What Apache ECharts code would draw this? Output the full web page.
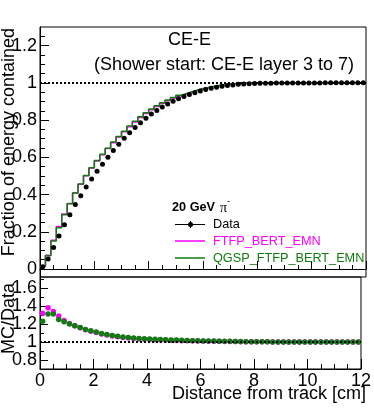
<!DOCTYPE html>
<html>
<head>
<meta charset="utf-8">
<script src="https://cdn.jsdelivr.net/npm/echarts@6/dist/echarts.min.js"></script>
<style>
  html, body { margin: 0; padding: 0; background: #fff; }
  #chart { width: 374px; height: 409px; }
</style>
</head>
<body>
<div id="chart"></div>
<script>
// bin centres [cm], bin width 0.2 cm
const binWidth = 0.2;
const binCenters = [0.1,0.3,0.5,0.7,0.9,1.1,1.3,1.5,1.7,1.9,
  2.1,2.3,2.5,2.7,2.9,3.1,3.3,3.5,3.7,3.9,
  4.1,4.3,4.5,4.7,4.9,5.1,5.3,5.5,5.7,5.9,
  6.1,6.3,6.5,6.7,6.9,7.1,7.3,7.5,7.7,7.9,
  8.1,8.3,8.5,8.7,8.9,9.1,9.3,9.5,9.7,9.9,
  10.1,10.3,10.5,10.7,10.9,11.1,11.3,11.5,11.7,11.9];

// fraction of energy contained
const dataFrac = [0.012,0.054,0.115,0.177,0.238,0.292,0.346,0.394,0.441,0.484,
  0.525,0.563,0.600,0.636,0.670,0.702,0.732,0.760,0.786,0.810,
  0.832,0.852,0.870,0.886,0.901,0.914,0.926,0.937,0.947,0.956,
  0.964,0.971,0.977,0.982,0.986,0.989,0.992,0.994,0.9955,0.9965,
  0.9972,0.9978,0.9983,0.9987,0.999,0.9992,0.9994,0.9995,0.9996,0.9997,
  0.9998,0.9998,0.9999,0.9999,0.9999,0.9999,1.0,1.0,1.0,1.0];
const ftfpFrac = [0.0158,0.0745,0.1541,0.2283,0.2951,0.3519,0.4083,0.4559,0.5014,0.5421,
  0.5801,0.6137,0.6468,0.6786,0.7089,0.7371,0.7642,0.7896,0.8135,0.8351,
  0.8553,0.8733,0.8900,0.9046,0.9181,0.9295,0.9399,0.9501,0.9593,0.9665,
  0.9736,0.9797,0.9848,0.9889,0.9919,0.9949,0.9970,0.9980,0.9990,0.9995,
  0.9997,0.9998,0.9998,0.9998,0.9999,0.9999,0.9999,0.9999,0.9999,0.9999,
  1.0,1.0,1.0,1.0,1.0,1.0,1.0,1.0,1.0,1.0];
const qgspFrac = [0.0148,0.0707,0.1507,0.2213,0.2916,0.3504,0.4083,0.4570,0.5027,0.5445,
  0.5828,0.6165,0.6492,0.6818,0.7122,0.7406,0.7679,0.7934,0.8174,0.8392,
  0.8595,0.8776,0.8935,0.9082,0.9217,0.9332,0.9436,0.9529,0.9612,0.9694,
  0.9756,0.9817,0.9868,0.9908,0.9939,0.9959,0.9980,0.9990,0.9995,0.9998,
  0.9998,0.9998,0.9999,0.9999,1.0,1.0,1.0,1.0,1.0,1.0,
  1.0,1.0,1.0,1.0,1.0,1.0,1.0,1.0,1.0,1.0];

// MC/Data
const ftfpRatio = [1.32,1.38,1.34,1.29,1.24,1.205,1.18,1.157,1.137,1.12,
  1.105,1.09,1.078,1.067,1.058,1.050,1.044,1.039,1.035,1.031,
  1.028,1.025,1.023,1.021,1.019,1.017,1.015,1.014,1.013,1.011,
  1.010,1.009,1.008,1.007,1.006,1.006,1.005,1.004,1.0035,1.003,
  1.0025,1.002,1.0015,1.0011,1.0009,1.0007,1.0005,1.0004,1.0003,1.0002,
  1.0002,1.0001,1.0001,1.0,1.0,1.0,1.0,1.0,1.0,1.0];
const qgspRatio = [1.23,1.31,1.31,1.25,1.225,1.20,1.18,1.16,1.14,1.125,
  1.11,1.095,1.082,1.072,1.063,1.055,1.049,1.044,1.040,1.036,
  1.033,1.030,1.027,1.025,1.023,1.021,1.019,1.017,1.015,1.014,
  1.012,1.011,1.010,1.009,1.008,1.007,1.006,1.005,1.004,1.0033,
  1.0026,1.002,1.0016,1.0012,1.001,1.0008,1.0006,1.0005,1.0004,1.0003,
  1.0002,1.0002,1.0001,1.0001,1.0001,1.0001,1.0,1.0,1.0,1.0];

// tick values
const topMajor = [0, 0.2, 0.4, 0.6, 0.8, 1, 1.2];
const topMinor = [0.05,0.1,0.15,0.25,0.3,0.35,0.45,0.5,0.55,0.65,0.7,0.75,0.85,0.9,0.95,1.05,1.1,1.15,1.25];
const botMajor = [0.8, 1, 1.2, 1.4, 1.6];
const botMinor = [0.7, 0.9, 1.1, 1.3, 1.5, 1.7];

const legendNames = ['Data', 'FTFP_BERT_EMN', 'QGSP_FTFP_BERT_EMN'];

const FONT = '"Liberation Sans", Arial, Helvetica, sans-serif';
const MAGENTA = '#ff00ff';
const GREEN = '#107c10';

// histogram as step line from bin low edges
function histData(vals) {
  const half = binWidth / 2;
  const pts = binCenters.map((c, i) => [c - half, vals[i]]);
  pts.push([binCenters[binCenters.length - 1] + half, vals[vals.length - 1]]);
  return pts;
}
function pointData(vals) {
  return binCenters.map((c, i) => [c, vals[i]]);
}

const chart = echarts.init(document.getElementById('chart'));

const xBase = {
  type: 'value', min: 0, max: 12, interval: 2, position: 'bottom',
  axisLine: { show: true, lineStyle: { color: '#000', width: 1 } },
  splitLine: { show: false }
};
const yBase = {
  type: 'value', position: 'left',
  splitLine: { show: false },
  axisLine: { show: true, lineStyle: { color: '#000', width: 1 } }
};

function txt(x, y, text, font, color, align) {
  return { type: 'text', x: x, y: y, z: 100,
    style: { text: text, font: font, fill: color || '#000',
      align: align || 'left', verticalAlign: 'middle',
      textAlign: align || 'left', textVerticalAlign: 'middle' } };
}
function hline(x1, x2, y, color, w) {
  return { type: 'line', z: 100, shape: { x1: x1, y1: y, x2: x2, y2: y },
    style: { stroke: color, lineWidth: w } };
}

// legend box
const lgX = 175, lgY = 224, lgStep = 17, lgTextX = 213;
const legendGraphics = [
  txt(172, 207.5, '20 GeV', 'bold 12.7px ' + FONT),
  txt(220, 208.5, 'π', '14px "Liberation Serif", serif'),
  txt(227, 202, '-', '9px ' + FONT),
  hline(lgX, lgX + 30, lgY + 0.5, '#000', 1),
  { type: 'line', z: 100, shape: { x1: lgX + 15.5, y1: lgY - 3, x2: lgX + 15.5, y2: lgY + 4 },
    style: { stroke: '#000', lineWidth: 1 } },
  { type: 'circle', z: 101, shape: { cx: lgX + 15.5, cy: lgY + 0.5, r: 2.5 }, style: { fill: '#000' } },
  txt(lgTextX, lgY, legendNames[0], '12.7px ' + FONT, '#000'),
  hline(lgX, lgX + 30, lgY + lgStep, MAGENTA, 1.5),
  txt(lgTextX, lgY + lgStep, legendNames[1], '12.7px ' + FONT, MAGENTA),
  hline(lgX, lgX + 30, lgY + 2 * lgStep, GREEN, 1.5),
  txt(lgTextX, lgY + 2 * lgStep, legendNames[2], '12.7px ' + FONT, GREEN)
];

function rotTitle(x, y, text) {
  return { type: 'text', x: x, y: y, rotation: Math.PI / 2,
    style: { text: text, font: '18px ' + FONT, fill: '#000',
      align: 'right', verticalAlign: 'middle', textAlign: 'right', textVerticalAlign: 'middle' } };
}

chart.setOption({
  animation: false,
  backgroundColor: '#fff',
  grid: [
    { left: 40, top: 27, width: 326, height: 250, show: true, borderColor: '#000', borderWidth: 1 },
    { left: 40, top: 277, width: 326, height: 92, show: true, borderColor: '#000', borderWidth: 1 }
  ],
  xAxis: [
    Object.assign({}, xBase, {
      gridIndex: 0,
      axisTick: { inside: true, length: 8, lineStyle: { color: '#000' } },
      minorTick: { show: true, splitNumber: 4, length: 4, lineStyle: { color: '#000' } },
      axisLabel: { show: false }
    }),
    Object.assign({}, xBase, {
      gridIndex: 1,
      axisTick: { inside: true, length: 10, lineStyle: { color: '#000' } },
      minorTick: { show: true, splitNumber: 4, length: 5, lineStyle: { color: '#000' } },
      axisLabel: { show: true, color: '#000', fontSize: 18, fontFamily: FONT, margin: 3 }
    })
  ],
  yAxis: [
    Object.assign({}, yBase, {
      gridIndex: 0, min: -0.043, max: 1.30,
      axisTick: { inside: true, length: 9, customValues: topMajor, lineStyle: { color: '#000' } },
      axisLabel: { customValues: topMajor, color: '#000', fontSize: 18, fontFamily: FONT, margin: 3 }
    }),
    Object.assign({}, yBase, {
      gridIndex: 0, min: -0.043, max: 1.30,
      axisLine: { show: false },
      axisTick: { inside: true, length: 5, customValues: topMinor, lineStyle: { color: '#000' } },
      axisLabel: { show: false }
    }),
    Object.assign({}, yBase, {
      gridIndex: 1, min: 0.7, max: 1.722,
      axisTick: { inside: true, length: 8, customValues: botMajor, lineStyle: { color: '#000' } },
      axisLabel: { customValues: botMajor, color: '#000', fontSize: 18, fontFamily: FONT, margin: 3 }
    }),
    Object.assign({}, yBase, {
      gridIndex: 1, min: 0.7, max: 1.722,
      axisLine: { show: false },
      axisTick: { inside: true, length: 4, customValues: botMinor, lineStyle: { color: '#000' } },
      axisLabel: { show: false }
    })
  ],
  series: [
    {
      name: legendNames[1], type: 'line', xAxisIndex: 0, yAxisIndex: 0,
      step: 'end', symbol: 'none', z: 2,
      color: MAGENTA, lineStyle: { color: MAGENTA, width: 1.5 },
      data: histData(ftfpFrac)
    },
    {
      name: legendNames[2], type: 'line', xAxisIndex: 0, yAxisIndex: 0,
      step: 'end', symbol: 'none', z: 3,
      color: GREEN, lineStyle: { color: GREEN, width: 1.5 },
      data: histData(qgspFrac)
    },
    {
      name: legendNames[0], type: 'scatter', xAxisIndex: 0, yAxisIndex: 0,
      symbol: 'circle', symbolSize: 5, z: 4,
      itemStyle: { color: '#000', opacity: 1 },
      data: pointData(dataFrac),
      markLine: {
        silent: true, symbol: 'none', label: { show: false },
        lineStyle: { color: '#000', type: [2, 2], width: 1.8 },
        data: [{ yAxis: 1 }]
      }
    },
    {
      name: legendNames[1], type: 'scatter', xAxisIndex: 1, yAxisIndex: 2,
      symbol: 'circle', symbolSize: 5.5, z: 3,
      itemStyle: { color: MAGENTA, opacity: 1 },
      data: pointData(ftfpRatio),
      markLine: {
        silent: true, symbol: 'none', label: { show: false },
        lineStyle: { color: '#000', type: [2, 2], width: 1.8 },
        data: [{ yAxis: 1 }]
      }
    },
    {
      name: legendNames[2], type: 'scatter', xAxisIndex: 1, yAxisIndex: 2,
      symbol: 'circle', symbolSize: 5.5, z: 4,
      itemStyle: { color: GREEN, opacity: 1 },
      data: pointData(qgspRatio)
    }
  ],
  graphic: [
    rotTitle(9.5, 28, 'Fraction of energy contained'),
    rotTitle(9.5, 283, 'MC/Data'),
    txt(366, 394, 'Distance from track [cm]', '18px ' + FONT, '#000', 'right'),
    txt(168, 40.5, 'CE-E', '18px ' + FONT),
    txt(94, 65.5, '(Shower start: CE-E layer 3 to 7)', '18px ' + FONT)
  ].concat(legendGraphics)
});
</script>
</body>
</html>
